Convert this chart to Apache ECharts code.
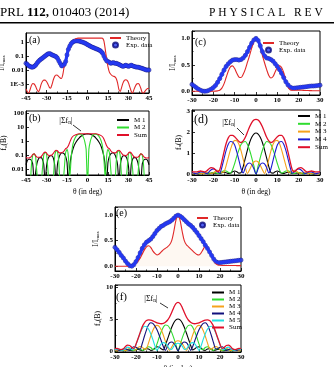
<!DOCTYPE html>
<html><head><meta charset="utf-8">
<script src="https://cdn.jsdelivr.net/npm/echarts@6/dist/echarts.min.js"></script>
<style>html,body{margin:0;padding:0;background:#fff}#c{width:334px;height:367px}</style>
</head><body><div id="c"></div>
<script>
// ---------- data ----------
const xWide = [-45,-44,-43,-42,-41,-40,-39,-38,-37,-36,-35,-34,-33,-32,-31,-30,-29,-28,-27,-26,-25,-24,-23,-22,-21,-20,-19,-18,-17,-16,-15,-14,-13,-12,-11,-10,-9,-8,-7,-6,-5,-4,-3,-2,-1,0,1,2,3,4,5,6,7,8,9,10,11,12,13,14,15,16,17,18,19,20,21,22,23,24,25,26,27,28,29,30,31,32,33,34,35,36,37,38,39,40,41,42,43,44,45];
const xNarrow = [-30,-29,-28,-27,-26,-25,-24,-23,-22,-21,-20,-19,-18,-17,-16,-15,-14,-13,-12,-11,-10,-9,-8,-7,-6,-5,-4,-3,-2,-1,0,1,2,3,4,5,6,7,8,9,10,11,12,13,14,15,16,17,18,19,20,21,22,23,24,25,26,27,28,29,30];

// (a) log intensity
const theoryA = [4.5e-4,2.8e-4,2.2e-4,4e-4,8e-4,1.1e-3,1.0e-3,7e-4,4e-4,2.8e-4,
 4e-4,9e-4,1.5e-3,1.9e-3,1.9e-3,1.5e-3,1.0e-3,6e-4,5e-4,9e-4,
 2.0e-3,3.5e-3,4.4e-3,4.2e-3,3.4e-3,2.7e-3,2.5e-3,5e-3,0.02,0.05,
 0.1,0.2,0.4,0.7,1.0,1.3,1.6,1.8,1.9,
 1.9,1.9,1.9,1.9,1.9,1.9,1.9,1.9,1.9,1.9,1.9,1.9,1.9,1.9,1.9,1.9,1.9,
 1.85,1.2,0.3,0.06,0.017,7e-3,5e-3,4e-3,3.6e-3,3.3e-3,
 2.5e-3,1.2e-3,4e-4,3e-4,6e-4,1.2e-3,1.8e-3,2.0e-3,1.8e-3,1.2e-3,
 6e-4,3e-4,2.2e-4,4e-4,7e-4,1.0e-3,1.1e-3,9e-4,5e-4,2.5e-4,
 2.2e-4,3e-4,4e-4,4.8e-4,5e-4];
const expA = [0.03,0.025,0.02,0.018,0.016,0.016,0.018,0.022,0.03,0.04,
 0.05,0.06,0.07,0.085,0.1,0.12,0.14,0.15,0.14,0.12,
 0.11,0.1,0.09,0.07,0.045,0.03,0.02,0.02,0.025,0.04,
 0.12,0.3,0.5,0.75,0.95,1.1,1.2,1.22,1.2,1.15,
 1.08,1.0,0.92,0.85,0.75,0.65,0.58,0.5,0.45,0.41,
 0.37,0.34,0.31,0.28,0.25,0.21,0.16,0.1,0.065,0.045,
 0.04,0.035,0.03,0.032,0.034,0.03,0.03,0.028,0.025,0.022,
 0.02,0.018,0.02,0.022,0.02,0.018,0.02,0.022,0.02,0.018,
 0.017,0.016,0.016,0.015,0.014,0.013,0.012,0.011,0.01,0.01,0.01];

// (b) log mode amplitudes
const m1B = [0.02,0.04,0.05,0.05,0.04,0.02,0.001,0.005,0.025,0.05,0.065,0.065,0.05,0.02,0.001,0.015,0.05,0.08,0.09,0.085,0.06,0.02,0.001,0.02,0.06,0.11,0.14,0.14,0.12,0.08,0.03,0.001,0.015,0.08,0.2,0.4,0.65,0.95,1.3,1.7,2.1,2.45,2.75,3.0,3.15,
 3.2,3.15,3.0,2.75,2.45,2.1,1.7,1.3,0.95,0.65,0.4,0.2,0.08,0.015,0.001,0.03,0.08,0.12,0.14,0.14,0.11,0.06,0.02,0.001,0.02,0.06,0.085,0.09,0.08,0.05,0.015,0.001,0.02,0.05,0.065,0.065,0.05,0.025,0.005,0.001,0.02,0.04,0.05,0.05,0.04,0.02];
const m2B = [0.001,0.001,0.001,0.001,0.02,0.1,0.12,0.08,0.005,0.001,0.001,0.001,0.01,0.1,0.15,0.12,0.01,0.001,0.001,0.001,0.002,0.08,0.2,0.17,0.03,0.001,0.001,0.001,0.01,0.15,0.25,0.08,0.002,0.05,0.4,1.0,1.7,2.4,2.9,3.1,3.0,2.6,1.8,0.9,0.25,
 0.0005,0.25,0.9,1.8,2.6,3.0,3.1,2.9,2.4,1.7,1.0,0.4,0.05,0.002,0.08,0.25,0.15,0.01,0.001,0.001,0.001,0.03,0.17,0.2,0.08,0.002,0.001,0.001,0.001,0.01,0.12,0.15,0.1,0.01,0.001,0.001,0.001,0.005,0.08,0.12,0.1,0.02,0.001,0.001,0.001,0.001];
const sumB = [0.065,0.06,0.06,0.065,0.08,0.11,0.12,0.09,0.07,0.068,0.068,0.075,0.1,0.14,0.16,0.14,0.1,0.09,0.095,0.1,0.13,0.18,0.22,0.2,0.15,0.14,0.15,0.16,0.2,0.28,0.32,0.45,0.8,1.4,2.0,2.4,2.7,2.95,3.15,3.25,3.3,3.3,3.3,3.3,3.3,
 3.3,3.3,3.3,3.3,3.3,3.3,3.25,3.15,2.95,2.7,2.4,2.0,1.4,0.8,0.45,0.32,0.28,0.2,0.16,0.15,0.14,0.15,0.2,0.22,0.18,0.13,0.1,0.095,0.09,0.1,0.14,0.16,0.14,0.1,0.075,0.068,0.068,0.07,0.09,0.12,0.11,0.08,0.065,0.06,0.06,0.065];

// (c) linear intensity
const theoryC = [0,0,0,0,0,0,0,0,0,0,0,0.003,0.008,
 0.02,0.06,0.14,0.26,0.38,0.46,0.48,0.43,0.34,0.27,0.26,0.32,0.42,0.55,0.68,0.82,0.94,
 1.0,0.95,0.83,0.68,0.54,0.41,0.3,0.25,0.28,0.37,0.45,0.48,0.45,0.35,0.2,0.08,0.03,
 0.02,0.02,0.02,0.02,0.02,0.018,0.016,0.015,0.013,0.012,0.01,0.01,0.01,0.01];
const expC = [0.13,0.1,0.07,0.04,0.02,0.005,0.0,0.005,0.02,0.04,0.07,0.11,0.17,0.24,0.32,0.4,0.47,0.52,0.56,0.59,0.6,0.6,0.59,0.6,0.63,0.68,0.75,0.83,0.91,0.97,
 1.0,0.96,0.86,0.75,0.67,0.63,0.62,0.6,0.57,0.52,0.47,0.41,0.34,0.26,0.18,0.12,0.08,0.06,0.06,0.065,0.07,0.075,0.08,0.085,0.09,0.095,0.1,0.1,0.105,0.11,0.115];

// (d) four modes
const m1D = [0.02,0.02,0.02,0.0,0.02,0.03,0.03,0.02,0.01,0.04,0.05,0.04,0.02,0.02,0.06,0.08,0.06,0.02,0.03,0.1,0.14,0.11,0.04,0.06,0.35,0.75,1.15,1.5,1.75,1.9,
 1.95,1.9,1.75,1.5,1.15,0.75,0.35,0.06,0.04,0.11,0.14,0.1,0.03,0.02,0.06,0.08,0.06,0.02,0.02,0.04,0.05,0.04,0.01,0.02,0.03,0.03,0.02,0.0,0.02,0.02,0.02];
const m2D = [0.01,0.02,0.03,0.02,0.01,0.03,0.04,0.03,0.01,0.05,0.07,0.06,0.02,0.03,0.1,0.15,0.14,0.08,0.03,0.2,0.5,0.85,1.15,1.4,1.52,1.55,1.4,1.13,0.78,0.38,
 0.0,0.38,0.78,1.13,1.4,1.55,1.52,1.4,1.15,0.85,0.5,0.2,0.03,0.08,0.14,0.15,0.1,0.03,0.02,0.06,0.07,0.05,0.01,0.03,0.04,0.03,0.01,0.02,0.03,0.02,0.01];
const m3D = [0.02,0.01,0.03,0.04,0.03,0.01,0.05,0.08,0.07,0.03,0.05,0.13,0.17,0.15,0.08,0.1,0.4,0.78,1.15,1.45,1.6,1.58,1.42,1.1,0.7,0.3,0.02,0.2,0.42,0.57,
 0.62,0.57,0.42,0.2,0.02,0.3,0.7,1.1,1.42,1.58,1.6,1.45,1.15,0.78,0.4,0.1,0.08,0.15,0.17,0.13,0.05,0.03,0.07,0.08,0.05,0.01,0.03,0.04,0.03,0.01,0.02];
const m4D = [0.06,0.04,0.01,0.06,0.1,0.1,0.06,0.02,0.1,0.2,0.24,0.2,0.1,0.04,0.32,0.72,1.12,1.42,1.55,1.53,1.38,1.05,0.65,0.25,0.05,0.3,0.48,0.52,0.45,0.25,
 0.0,0.25,0.45,0.52,0.48,0.3,0.05,0.25,0.65,1.05,1.38,1.53,1.55,1.42,1.12,0.72,0.32,0.04,0.1,0.2,0.24,0.2,0.1,0.02,0.06,0.1,0.1,0.06,0.01,0.04,0.06];
const sumD = [0.11,0.1,0.1,0.12,0.14,0.12,0.1,0.15,0.25,0.3,0.28,0.2,0.1,0.2,0.6,1.05,1.45,1.72,1.84,1.84,1.77,1.66,1.55,1.5,1.58,1.75,2.0,2.25,2.45,2.57,
 2.6,2.57,2.45,2.25,2.0,1.75,1.58,1.5,1.55,1.66,1.77,1.84,1.84,1.72,1.45,1.05,0.6,0.2,0.1,0.2,0.28,0.3,0.25,0.15,0.1,0.12,0.14,0.12,0.1,0.1,0.11];

// (e) linear intensity
const theoryE = [0,0,0,0,0,0,0,0,
 0.01,0.03,0.06,0.1,0.16,0.24,0.32,0.38,0.4,0.37,0.3,0.25,0.22,0.24,0.28,0.32,0.35,0.38,0.42,0.5,0.68,0.9,
 1.0,0.9,0.68,0.5,0.42,0.38,0.34,0.3,0.26,0.23,0.22,0.26,0.33,0.39,0.38,0.3,0.2,0.11,0.05,0.025,0.018,
 0.015,0.015,0.015,0.014,0.014,0.013,0.013,0.012,0.012,0.012];
const expE = [0.37,0.32,0.27,0.21,0.16,0.1,0.05,0.01,0.0,0.03,0.09,0.17,0.26,0.35,0.42,0.47,0.5,0.53,0.58,0.64,0.7,0.74,0.78,0.8,0.83,0.85,0.87,0.9,0.94,0.98,
 1.0,0.98,0.95,0.91,0.87,0.83,0.8,0.76,0.71,0.66,0.6,0.54,0.48,0.41,0.35,0.28,0.21,0.14,0.09,0.07,0.07,0.075,0.08,0.085,0.09,0.095,0.1,0.105,0.11,0.115,0.12];

// (f) five modes
const m1F = [0.02,0.08,0.13,0.1,0.02,0.1,0.18,0.15,0.05,0.08,0.22,0.25,0.15,0.05,0.25,0.35,0.3,0.1,0.15,0.45,0.65,0.6,0.35,0.15,0.9,1.85,2.8,3.7,4.4,4.85,
 5.0,4.85,4.4,3.7,2.8,1.85,0.9,0.15,0.35,0.6,0.65,0.45,0.15,0.1,0.3,0.35,0.25,0.05,0.15,0.25,0.22,0.08,0.05,0.15,0.18,0.1,0.02,0.1,0.13,0.08,0.02];
const m2F = [0.05,0.05,0.15,0.18,0.1,0.05,0.2,0.25,0.15,0.05,0.25,0.35,0.3,0.1,0.2,0.5,0.65,0.55,0.25,0.3,1.1,2.1,3.0,3.7,4.05,4.0,3.6,2.9,2.0,1.0,
 0.0,1.0,2.0,2.9,3.6,4.0,4.05,3.7,3.0,2.1,1.1,0.3,0.25,0.55,0.65,0.5,0.2,0.1,0.3,0.35,0.25,0.05,0.15,0.25,0.2,0.05,0.1,0.18,0.15,0.05,0.05];
const m3F = [0.1,0.02,0.15,0.25,0.2,0.05,0.25,0.4,0.35,0.15,0.2,0.55,0.7,0.6,0.3,0.4,1.3,2.3,3.2,3.8,4.0,3.85,3.3,2.5,1.5,0.6,0.1,0.6,1.15,1.5,
 1.6,1.5,1.15,0.6,0.1,0.6,1.5,2.5,3.3,3.85,4.0,3.8,3.2,2.3,1.3,0.4,0.3,0.6,0.7,0.55,0.2,0.15,0.35,0.4,0.25,0.05,0.2,0.25,0.15,0.02,0.1];
const m4F = [0.2,0.2,0.1,0.1,0.3,0.35,0.2,0.1,0.45,0.65,0.6,0.35,0.3,1.2,2.3,3.3,4.1,4.4,4.3,3.9,3.3,2.5,1.6,0.7,0.1,0.8,1.3,1.4,1.2,0.7,
 0.0,0.7,1.2,1.4,1.3,0.8,0.1,0.7,1.6,2.5,3.3,3.9,4.3,4.4,4.1,3.3,2.3,1.2,0.3,0.35,0.6,0.65,0.45,0.1,0.2,0.35,0.3,0.1,0.1,0.2,0.2];
const m5F = [0.2,0.3,0.25,0.1,0.15,0.45,0.6,0.5,0.2,0.3,1.0,1.9,2.8,3.5,3.85,3.8,3.4,2.7,1.8,0.8,0.1,0.6,1.1,1.3,1.2,0.8,0.3,0.25,0.75,1.1,
 1.2,1.1,0.75,0.25,0.3,0.8,1.2,1.3,1.1,0.6,0.1,0.8,1.8,2.7,3.4,3.8,3.85,3.5,2.8,1.9,1.0,0.3,0.2,0.5,0.6,0.45,0.15,0.1,0.25,0.3,0.2];
const sumF = [0.35,0.4,0.3,0.2,0.35,0.7,0.9,0.85,0.55,0.4,1.05,1.95,2.9,3.8,4.4,4.75,4.85,4.8,4.7,4.55,4.4,4.3,4.25,4.3,4.5,4.8,5.3,6.0,6.8,7.4,
 7.6,7.4,6.8,6.0,5.3,4.8,4.5,4.3,4.25,4.3,4.4,4.55,4.7,4.8,4.85,4.75,4.4,3.8,2.9,1.95,1.05,0.4,0.55,0.85,0.9,0.7,0.35,0.2,0.3,0.4,0.35];

const logLabelsA = {'0':'1','-1':'0.1','-2':'0.01','-3':'1E-3'};
const logLabelsB = {'2':'100','1':'10','0':'1','-1':'0.1','-2':'0.01'};

// ---------- styling ----------
const FONT = 'Liberation Serif';
const RED = '#e02828', SUM = '#e0102a', BLUE = '#2438f0', BLUE_EDGE = '#08087a';
const GREEN = '#2fdc2f', ORANGE = '#f5a21c', M4D = '#1b1bd0', M4F = '#10107c', CYAN = '#22e0e0';
const zip = (xs, ys) => xs.map((x, i) => [x, ys[i]]);

const lab = {color:'#000', fontSize:7, fontWeight:'bold', fontFamily:FONT, margin:2};
const axLine = {show:true, onZero:false, lineStyle:{color:'#000', width:1}};
const tick = {show:true, inside:true, length:3, lineStyle:{color:'#000', width:0.8}};
const minor = {show:true, splitNumber:2, length:1.6, lineStyle:{color:'#000', width:0.7}};
const nameStyle = {color:'#000', fontSize:7.5, fontFamily:FONT,
  rich:{s:{fontSize:5, fontFamily:FONT, color:'#000', padding:[3,0,0,0]}, t:{fontSize:7.5, fontFamily:FONT, color:'#000'}}};

function xAx(gi, min, max, interval, name){
  const a = {type:'value', gridIndex:gi, min:min, max:max, interval:interval,
    axisLine:axLine, axisTick:tick, minorTick:minor, splitLine:{show:false},
    axisLabel:Object.assign({}, lab)};
  if (name){ a.name = name; a.nameLocation = 'middle'; a.nameGap = 13; a.nameTextStyle = {color:'#000', fontSize:7.5, fontFamily:FONT}; }
  return a;
}
function yLin(gi, min, max, split, step, dec, name, gap){
  return {type:'value', gridIndex:gi, min:min, max:max, splitNumber:split,
    axisLine:axLine, axisTick:tick, minorTick:minor, splitLine:{show:false},
    axisLabel:Object.assign({}, lab, {showMinLabel:false, showMaxLabel:false,
      formatter: v => (Math.abs(v/step - Math.round(v/step)) > 1e-6 ? '' : v.toFixed(dec))}),
    name:name, nameLocation:'middle', nameGap:gap, nameRotate:90, nameTextStyle:nameStyle};
}
function yLog(gi, min, max, labels, name, gap){
  return {type:'log', logBase:10, gridIndex:gi, min:min, max:max,
    axisLine:axLine, axisTick:tick, splitLine:{show:false},
    axisLabel:Object.assign({}, lab, {showMinLabel:false, showMaxLabel:false,
      formatter: v => { const e = Math.round(Math.log10(v)); return Math.abs(Math.log10(v) - e) > 1e-6 ? '' : (labels[String(e)] || ''); }}),
    name:name, nameLocation:'middle', nameGap:gap, nameRotate:90, nameTextStyle:nameStyle};
}
const gridBase = {show:true, borderColor:'#000', borderWidth:1, backgroundColor:'transparent', containLabel:false, outerBoundsMode:'none'};
const legText = {fontSize:7, fontFamily:FONT, color:'#000', lineHeight:7, padding:0};
function legend(names, left, top, gap, iw){
  const data = names.map(n => n === 'Exp. data' ? n : {name:n, itemStyle:{opacity:0, borderWidth:0}});
  return {data:data, left:left, top:top, orient:'vertical', itemWidth:iw||11, itemHeight:5, itemGap:gap,
    padding:0, selectedMode:false, textStyle:legText, inactiveColor:'#000'};
}
function line(name, xi, xs, ys, color, width, extra){
  return Object.assign({type:'line', name:name, xAxisIndex:xi, yAxisIndex:xi, data:zip(xs, ys), symbol:'none',
    smooth:0.3, lineStyle:{color:color, width:width||1.1}, itemStyle:{color:color}, clip:true, animation:false}, extra||{});
}
function expSeries(xi, xs, ys){
  return [
    {type:'line', xAxisIndex:xi, yAxisIndex:xi, data:zip(xs, ys), symbol:'none', smooth:0.3,
      lineStyle:{color:BLUE, width:3.2}, silent:true, clip:true, animation:false},
    {type:'scatter', name:'Exp. data', xAxisIndex:xi, yAxisIndex:xi, data:zip(xs, ys), symbol:'circle', symbolSize:4.2,
      itemStyle:{color:BLUE, borderColor:BLUE_EDGE, borderWidth:0.6}, clip:true, animation:false}
  ];
}
function txt(x, y, text, size, extra){
  return {type:'text', x:x, y:y, silent:true, style:Object.assign({text:text, fill:'#000',
    font:size + 'px "Liberation Serif"', verticalAlign:'middle'}, extra||{})};
}
function seg(x1, y1, x2, y2){
  return {type:'line', silent:true, shape:{x1:x1, y1:y1, x2:x2, y2:y2}, style:{stroke:'#000', lineWidth:0.8}};
}
const sigmaRich = {s:{fontSize:5.5, fontFamily:FONT, fill:'#000', padding:[4,0,0,0]}};

const option = {
  animation:false,
  backgroundColor:'#fff',
  grid:[
    Object.assign({left:26, top:33, width:123, height:60}, gridBase),
    Object.assign({left:26, top:111, width:123, height:64}, gridBase),
    Object.assign({left:192, top:31, width:128, height:64}, gridBase),
    Object.assign({left:192, top:110, width:128, height:65}, gridBase),
    Object.assign({left:115, top:207, width:126, height:64}, gridBase),
    Object.assign({left:115, top:285, width:126, height:67}, gridBase)
  ],
  xAxis:[
    xAx(0, -45, 45, 15),
    xAx(1, -45, 45, 15, 'θ (in deg)'),
    xAx(2, -30, 30, 10),
    xAx(3, -30, 30, 10, 'θ (in deg)'),
    xAx(4, -30, 30, 10),
    xAx(5, -30, 30, 10, 'θ (in deg)')
  ],
  yAxis:[
    yLog(0, 2.28e-4, 4.4, logLabelsA, '{t|I/I}{s|max}', 16),
    yLog(1, 0.0037, 139, logLabelsB, '{t|f}{s|n}{t|(B)}', 15),
    yLin(2, -0.07, 1.14, 2, 0.5, 1, '{t|I/I}{s|max}', 10),
    yLin(3, -0.05, 3.05, 3, 1, 0, '{t|f}{s|n}{t|(B)}', 8.5),
    yLin(4, -0.094, 1.16, 2, 0.5, 1, '{t|I/I}{s|max}', 9),
    yLin(5, -0.16, 10.3, 2, 5, 0, '{t|f}{s|n}{t|(B)}', 10)
  ],
  legend:[
    legend(['Theory','Exp. data'], 109, 34.5, 0),
    legend(['M 1','M 2','Sum'], 116, 116.5, 0.5, 12),
    legend(['Theory','Exp. data'], 262, 39.5, 0),
    legend(['M 1','M 2','M 3','M 4','Sum'], 297, 112.5, 0.8, 12),
    legend(['Theory','Exp. data'], 196, 214.5, 0),
    legend(['M 1','M 2','M 3','M 4\u200b','M 5','Sum'], 211, 289, 0, 12)
  ],
  series:[].concat(
    [line('Theory', 0, xWide, theoryA, RED, 1.1, {smooth:0.2})],
    expSeries(0, xWide, expA),
    [line('M 1', 1, xWide, m1B, '#000', 1.1, {smooth:0.2}),
     line('M 2', 1, xWide, m2B, GREEN, 1.1, {smooth:0.2}),
     line('Sum', 1, xWide, sumB, SUM, 1.1, {smooth:0.2})],
    [line('Theory', 2, xNarrow, theoryC, RED, 1.1)],
    expSeries(2, xNarrow, expC),
    [line('M 1', 3, xNarrow, m1D, '#000'),
     line('M 2', 3, xNarrow, m2D, GREEN),
     line('M 3', 3, xNarrow, m3D, ORANGE),
     line('M 4', 3, xNarrow, m4D, M4D),
     line('Sum', 3, xNarrow, sumD, SUM, 1.3)],
    [line('Theory', 4, xNarrow, theoryE, RED, 1.1, {areaStyle:{color:'rgba(250,225,200,0.35)'}})],
    expSeries(4, xNarrow, expE),
    [line('M 1', 5, xNarrow, m1F, '#000'),
     line('M 2', 5, xNarrow, m2F, GREEN),
     line('M 3', 5, xNarrow, m3F, ORANGE),
     line('M 4\u200b', 5, xNarrow, m4F, M4F),
     line('M 5', 5, xNarrow, m5F, CYAN),
     line('Sum', 5, xNarrow, sumF, SUM, 1.3)]
  ),
  graphic:[
    {type:'text', x:0, y:13, silent:true, style:{text:'{n|PRL }{b|112,}{n| 010403 (2014)}', verticalAlign:'middle',
      rich:{n:{fontSize:13, fontFamily:FONT, fill:'#000'}, b:{fontSize:13, fontWeight:'bold', fontFamily:FONT, fill:'#000'}}}},
    txt(209, 13, 'P H Y S I C A L   R E V', 11.5),
    {type:'rect', silent:true, shape:{x:0, y:22, width:334, height:1.6}, style:{fill:'#000'}},
    txt(29, 40, '(a)', 10),
    txt(29, 118, '(b)', 10),
    txt(195, 42, '(c)', 10),
    txt(194, 120, '(d)', 12),
    txt(116, 213, '(e)', 10),
    txt(116, 297, '(f)', 11),
    {type:'text', x:66, y:121, silent:true, style:{text:'|Σf{s|n}|', align:'center', verticalAlign:'middle', font:'8px "Liberation Serif"', fill:'#000', rich:sigmaRich}},
    seg(73, 125, 81, 131),
    {type:'text', x:229, y:123, silent:true, style:{text:'|Σf{s|n}|', align:'center', verticalAlign:'middle', font:'8px "Liberation Serif"', fill:'#000', rich:sigmaRich}},
    seg(237, 128, 244, 135),
    {type:'text', x:151, y:299, silent:true, style:{text:'|Σf{s|n}|', align:'center', verticalAlign:'middle', font:'8px "Liberation Serif"', fill:'#000', rich:sigmaRich}},
    seg(160, 303, 168, 308)
  ]
};
const chart = echarts.init(document.getElementById('c'), null, {renderer:'canvas', width:334, height:367});
chart.setOption(option);
</script></body></html>
